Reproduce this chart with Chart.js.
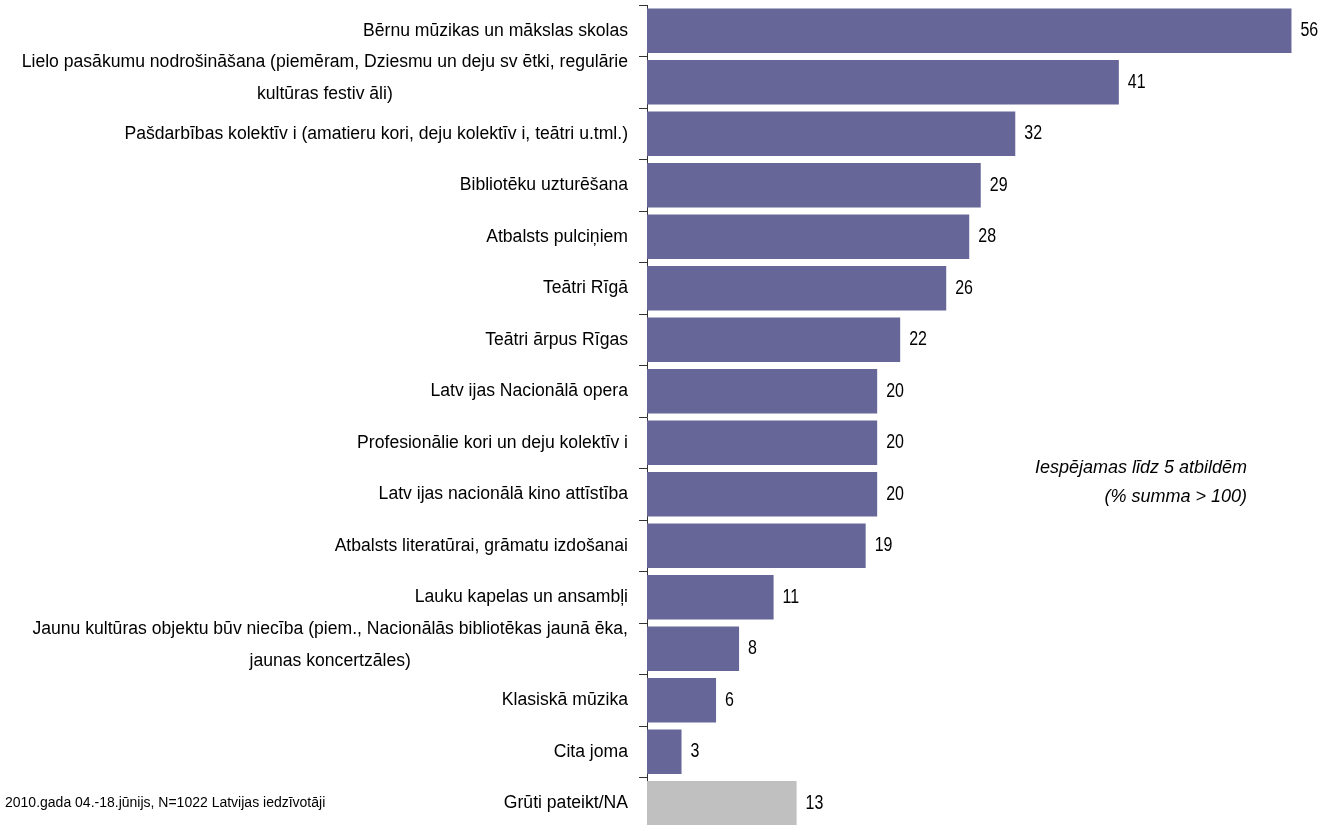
<!DOCTYPE html>
<html>
<head>
<meta charset="utf-8">
<script src="https://cdn.jsdelivr.net/npm/chart.js@4/dist/chart.umd.min.js"></script>
<style>
  html, body { margin: 0; padding: 0; background: #fff; overflow: hidden; }
  canvas { display: block; }
</style>
</head>
<body>
<canvas id="chart" width="1326" height="830"></canvas>
<script>
// categories, one entry per bar (lines of wrapped labels)
var categories = [
    ["Bērnu mūzikas un mākslas skolas"],
    ["Lielo pasākumu nodrošināšana (piemēram, Dziesmu un deju sv ētki, regulārie", "kultūras festiv āli)"],
    ["Pašdarbības kolektīv i (amatieru kori, deju kolektīv i, teātri u.tml.)"],
    ["Bibliotēku uzturēšana"],
    ["Atbalsts pulciņiem"],
    ["Teātri Rīgā"],
    ["Teātri ārpus Rīgas"],
    ["Latv ijas Nacionālā opera"],
    ["Profesionālie kori un deju kolektīv i"],
    ["Latv ijas nacionālā kino attīstība"],
    ["Atbalsts literatūrai, grāmatu izdošanai"],
    ["Lauku kapelas un ansambļi"],
    ["Jaunu kultūras objektu būv niecība (piem., Nacionālās bibliotēkas jaunā ēka,", "jaunas koncertzāles)"],
    ["Klasiskā mūzika"],
    ["Cita joma"],
    ["Grūti pateikt/NA"]
];
var values = [56, 41, 32, 29, 28, 26, 22, 20, 20, 20, 19, 11, 8, 6, 3, 13];
var barColors = ["#666699", "#666699", "#666699", "#666699", "#666699", "#666699", "#666699", "#666699",
                 "#666699", "#666699", "#666699", "#666699", "#666699", "#666699", "#666699", "#C0C0C0"];
var noteLines = ["Iespējamas līdz 5 atbildēm", "(% summa > 100)"];
var sourceText = "2010.gada 04.-18.jūnijs, N=1022 Latvijas iedzīvotāji";

var FONT = "Liberation Sans, Arial, sans-serif";

// draw wrapped category labels, value labels and the notes
var textPlugin = {
    id: 'textPlugin',
    afterDraw: function (chart) {
        var ctx = chart.ctx;
        var yScale = chart.scales.y;
        var meta = chart.getDatasetMeta(0);
        ctx.save();
        ctx.fillStyle = "#000";
        ctx.textBaseline = "middle";

        // category labels
        ctx.font = "17.6px " + FONT;
        var rightX = 628;
        categories.forEach(function (lines, i) {
            var cy = yScale.getPixelForTick(i);
            if (lines.length === 1) {
                ctx.textAlign = "right";
                ctx.fillText(lines[0], rightX, cy);
            } else {
                var lh = 32;
                var w0 = ctx.measureText(lines[0]).width;
                var centerX = rightX - w0 / 2;
                ctx.textAlign = "center";
                lines.forEach(function (ln, k) {
                    var y = cy - 4 - lh / 2 + k * lh;
                    ctx.fillText(ln, centerX, y);
                });
            }
        });

        // value labels (narrow, tall digits)
        ctx.font = "20px " + FONT;
        ctx.textAlign = "left";
        meta.data.forEach(function (bar, i) {
            ctx.save();
            ctx.translate(bar.x + 9, bar.y);
            ctx.scale(0.8, 1);
            ctx.fillText(String(values[i]), 0, 0);
            ctx.restore();
        });

        // notes
        ctx.font = "italic 18px " + FONT;
        ctx.textAlign = "right";
        ctx.fillText(noteLines[0], 1247, 468);
        ctx.fillText(noteLines[1], 1247, 497);

        ctx.font = "14px " + FONT;
        ctx.textAlign = "left";
        ctx.fillText(sourceText, 5, 803);
        ctx.restore();
    }
};

new Chart(document.getElementById("chart"), {
    type: 'bar',
    data: {
        labels: categories.map(function (l) { return l.join(" "); }),
        datasets: [{
            data: values,
            backgroundColor: barColors,
            borderWidth: 0,
            barPercentage: 0.86,
            categoryPercentage: 1.0
        }]
    },
    options: {
        indexAxis: 'y',
        responsive: false,
        animation: false,
        layout: { padding: { top: 5, bottom: 1, left: 0, right: 0 } },
        plugins: {
            legend: { display: false },
            tooltip: { enabled: false },
            title: { display: false }
        },
        scales: {
            x: {
                display: false,
                min: 0,
                max: 59
            },
            y: {
                afterFit: function (s) { s.width = 647; },
                ticks: { display: false },
                grid: {
                    offset: true,
                    drawOnChartArea: false,
                    drawTicks: true,
                    tickLength: 8,
                    color: "#333"
                },
                border: { display: true, color: "#333", width: 1 }
            }
        }
    },
    plugins: [textPlugin]
});
</script>
</body>
</html>
